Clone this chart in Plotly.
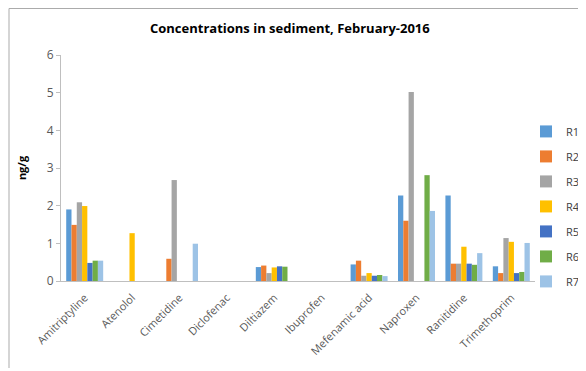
import plotly.graph_objects as go

categories = ["Amitriptyline", "Atenolol", "Cimetidine", "Diclofenac", "Diltiazem",
              "Ibuprofen", "Mefenamic acid", "Naproxen", "Ranitidine", "Trimethoprim"]
series_names = ["R1", "R2", "R3", "R4", "R5", "R6", "R7"]
R1 = [1.90, 0, 0, 0, 0.37, 0, 0.44, 2.27, 2.27, 0.39]
R2 = [1.49, 0, 0.59, 0, 0.41, 0, 0.54, 1.60, 0.46, 0.21]
R3 = [2.09, 0, 2.68, 0, 0.21, 0, 0.14, 5.02, 0.46, 1.14]
R4 = [1.99, 1.27, 0, 0, 0.36, 0, 0.21, 0, 0.91, 1.04]
R5 = [0.48, 0, 0, 0, 0.39, 0, 0.14, 0, 0.46, 0.21]
R6 = [0.54, 0, 0, 0, 0.38, 0, 0.16, 2.81, 0.43, 0.24]
R7 = [0.54, 0, 0.99, 0, 0, 0, 0.13, 1.86, 0.74, 1.01]
series_values = [R1, R2, R3, R4, R5, R6, R7]
colors = ["#5B9BD5", "#ED7D31", "#A5A5A5", "#FFC000", "#4472C4", "#70AD47", "#9DC3E6"]

fig = go.Figure()
for name, vals, c in zip(series_names, series_values, colors):
    fig.add_trace(go.Bar(x=categories, y=vals, name=name, marker_color=c,
                         marker_line_width=0, legendgroup=name))

font = "Open Sans, Liberation Sans, sans-serif"
fig.update_layout(
    width=586, height=371,
    margin=dict(l=53, r=59, t=47, b=98, autoexpand=False),
    paper_bgcolor="white", plot_bgcolor="white",
    barmode="group", bargap=0.22, bargroupgap=0,
    title=dict(text="<b>Concentrations in sediment, February-2016</b>",
               x=0.481, xanchor="center", y=0.946, yanchor="middle",
               font=dict(family=font, size=13, color="black")),
    font=dict(family=font, size=11, color="#595959"),
    legend=dict(x=0.981, xanchor="left", y=0.33, yanchor="middle",
                bgcolor="rgba(0,0,0,0)",
                font=dict(size=11, color="#404040"), tracegroupgap=6,
                itemwidth=30),
    showlegend=True,
)
fig.update_xaxes(tickangle=-45, showline=True, linecolor="#BFBFBF", linewidth=1,
                 ticks="", automargin=False, ticklabelstandoff=5,
                 tickfont=dict(size=11, color="#595959"))
fig.update_yaxes(range=[0, 6], dtick=1, showgrid=False, showline=True,
                 linecolor="#BFBFBF", linewidth=1, ticks="outside", ticklen=4,
                 tickcolor="#BFBFBF", zeroline=False, automargin=False,
                 tickfont=dict(size=12, color="#595959"),
                 title=dict(text="<b>ng/g</b>", font=dict(size=11, color="black"), standoff=17))
# chart frame (top and left edges visible)
fig.add_shape(type="line", xref="paper", yref="paper", x0=-0.1097, x1=1.13, y0=1.2058, y1=1.2058,
              line=dict(color="#ABABAB", width=1))
fig.add_shape(type="line", xref="paper", yref="paper", x0=-0.1097, x1=-0.1097, y0=1.2058, y1=-0.385,
              line=dict(color="#ABABAB", width=1))
fig.write_html("out.html")
